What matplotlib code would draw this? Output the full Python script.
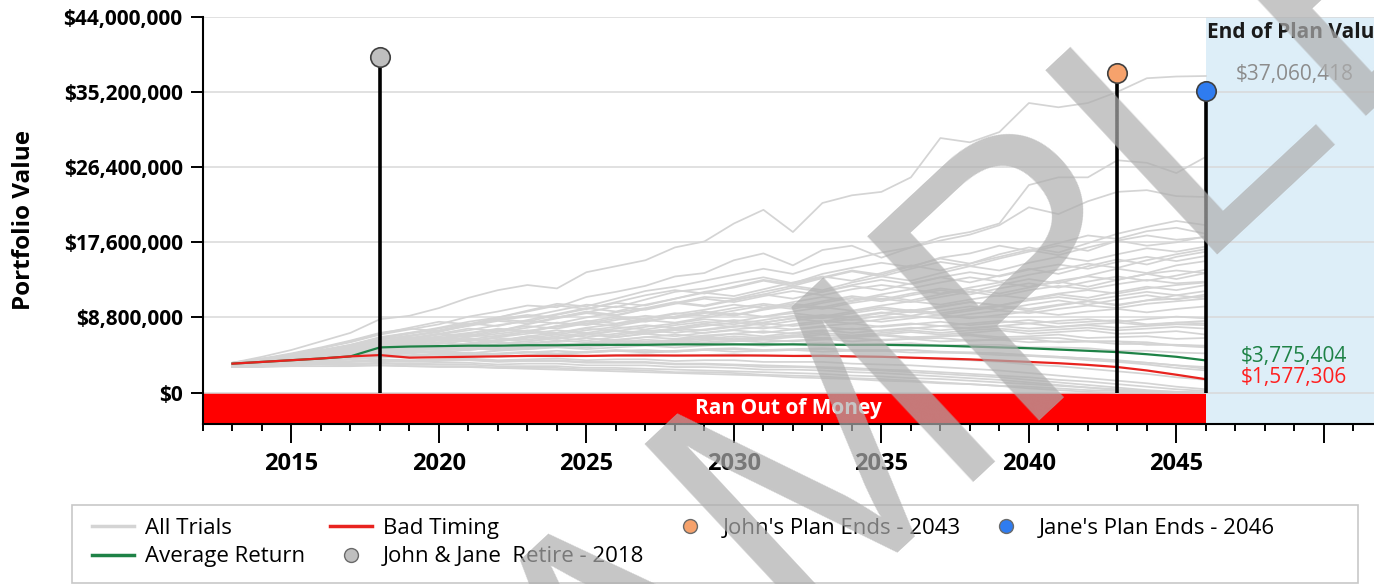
import numpy as np
import matplotlib
matplotlib.use("Agg")
import matplotlib.pyplot as plt
from matplotlib.ticker import MultipleLocator, FuncFormatter
from matplotlib.patches import Rectangle
from matplotlib.lines import Line2D

plt.rcParams["font.family"] = ["Open Sans", "DejaVu Sans"]

# --- data (values in millions of dollars) ---
years = np.arange(2013, 2047)

trials = [
    [3.5, 4.2, 5.0, 6.0, 7.0, 8.6, 9.0, 9.9, 11.1, 12.0, 12.6, 12.2, 14.1, 14.8, 15.5, 17.0, 17.7,
     19.8, 21.4, 18.8, 22.2, 23.1, 23.5, 25.2, 29.8, 29.3, 30.5, 33.9, 33.4, 33.9, 35.2, 36.8, 37.0, 37.06],
    [3.4, 3.9, 4.5, 5.2, 5.9, 6.8, 7.4, 8.0, 8.9, 9.5, 10.2, 10.0, 11.2, 11.8, 12.5, 13.6, 14.0,
     15.5, 16.3, 14.9, 16.7, 17.2, 15.8, 17.0, 18.2, 18.8, 19.8, 24.3, 25.2, 25.2, 27.2, 26.9, 25.7, 27.6],
    [3.3, 3.8, 4.3, 4.9, 5.6, 6.5, 7.0, 7.6, 8.3, 8.8, 9.6, 10.4, 10.1, 11.0, 11.9, 12.4, 13.1,
     13.8, 14.5, 13.9, 15.0, 15.6, 16.4, 17.0, 17.8, 18.5, 19.6, 21.7, 20.9, 22.4, 23.5, 23.7, 23.0, 22.9],
    [3.2, 3.7, 4.2, 4.8, 5.4, 6.2, 6.6, 7.1, 7.9, 8.5, 8.9, 9.6, 10.3, 10.0, 10.9, 11.8, 12.2,
     12.9, 13.5, 12.8, 13.9, 14.6, 15.2, 14.7, 15.8, 16.3, 17.2, 16.6, 17.5, 18.4, 18.0, 18.9, 19.3, 18.6],
    [3.5, 4.0, 4.4, 5.0, 5.6, 6.4, 7.0, 7.3, 8.0, 8.6, 8.3, 9.1, 9.8, 10.5, 10.2, 11.0, 11.8,
     12.3, 13.1, 12.5, 13.4, 14.2, 13.6, 14.5, 15.3, 14.8, 15.7, 16.5, 17.2, 16.6, 17.8, 18.4, 17.9, 18.2],
    [3.1, 3.5, 4.0, 4.6, 5.1, 5.8, 6.3, 6.9, 7.5, 7.2, 8.0, 8.7, 9.3, 9.0, 9.8, 10.5, 11.2,
     11.0, 11.8, 12.5, 12.0, 12.9, 13.6, 13.1, 14.0, 14.8, 14.3, 15.2, 15.9, 15.4, 16.2, 16.9, 16.5, 17.1],
    [3.4, 3.8, 4.2, 4.7, 5.3, 6.0, 6.2, 6.8, 7.3, 7.9, 8.4, 8.1, 8.8, 9.4, 9.9, 10.6, 10.2,
     10.9, 11.5, 12.3, 11.8, 12.6, 13.2, 12.7, 13.5, 14.1, 13.6, 14.4, 15.0, 14.5, 15.3, 15.9, 15.4, 16.0],
    [3.3, 3.6, 4.1, 4.5, 5.0, 5.7, 6.1, 6.6, 7.0, 7.4, 7.1, 7.8, 8.3, 8.9, 8.6, 9.2, 9.7,
     10.3, 9.9, 10.6, 11.2, 10.8, 11.5, 12.1, 11.6, 12.3, 12.9, 12.4, 13.1, 13.6, 13.2, 13.9, 14.3, 14.0],
    [3.2, 3.5, 3.9, 4.4, 4.9, 5.5, 5.9, 6.3, 6.8, 6.5, 7.2, 7.7, 8.1, 7.8, 8.4, 8.9, 9.4,
     9.0, 9.7, 10.2, 9.8, 10.5, 11.0, 10.6, 11.2, 11.8, 11.3, 12.0, 12.5, 12.1, 12.7, 13.2, 12.8, 13.0],
    [3.4, 3.7, 4.0, 4.4, 4.8, 5.4, 5.7, 6.1, 6.5, 6.9, 7.3, 7.0, 7.6, 8.0, 8.5, 8.2, 8.8,
     9.3, 8.9, 9.5, 10.0, 9.6, 10.2, 10.7, 10.3, 10.9, 11.4, 11.0, 11.6, 12.0, 11.6, 12.2, 12.6, 12.9],
    [3.0, 3.4, 3.8, 4.2, 4.7, 5.2, 5.5, 5.9, 6.3, 6.0, 6.6, 7.0, 7.5, 7.2, 7.7, 8.1, 8.6,
     8.3, 8.9, 9.3, 8.9, 9.5, 10.0, 9.6, 10.1, 10.6, 10.2, 10.8, 11.2, 10.8, 11.3, 11.8, 11.4, 11.9],
    [3.5, 3.9, 4.3, 4.7, 5.1, 5.6, 5.8, 6.2, 6.0, 6.5, 6.9, 7.3, 7.0, 7.5, 7.9, 7.6, 8.1,
     8.5, 8.2, 8.7, 9.1, 8.8, 9.3, 9.7, 9.3, 9.8, 10.2, 9.8, 10.3, 10.7, 10.3, 10.8, 11.0, 11.3],
    [3.2, 3.6, 3.9, 4.3, 4.6, 5.1, 5.4, 5.7, 6.1, 6.4, 6.2, 6.6, 7.0, 6.7, 7.2, 7.5, 7.3,
     7.7, 8.1, 7.8, 8.2, 8.6, 8.3, 8.7, 9.1, 8.7, 9.1, 9.5, 9.1, 9.5, 9.8, 9.4, 9.8, 10.1],
    [3.3, 3.5, 3.8, 4.1, 4.5, 4.9, 5.2, 5.5, 5.3, 5.7, 6.0, 6.4, 6.1, 6.5, 6.9, 6.6, 7.0,
     7.3, 7.0, 7.4, 7.7, 7.4, 7.8, 8.1, 7.8, 8.1, 8.4, 8.1, 8.4, 8.6, 8.3, 8.6, 8.9, 8.7],
    [3.1, 3.4, 3.7, 4.0, 4.3, 4.8, 5.0, 5.3, 5.6, 5.4, 5.8, 6.1, 5.9, 6.2, 6.5, 6.3, 6.7,
     6.9, 6.6, 7.0, 7.3, 7.0, 7.3, 7.6, 7.3, 7.6, 7.8, 7.5, 7.7, 7.9, 7.6, 7.8, 8.0, 7.9],
    [3.4, 3.6, 3.9, 4.2, 4.4, 4.7, 4.9, 5.2, 5.0, 5.3, 5.6, 5.4, 5.7, 6.0, 5.8, 6.1, 6.3,
     6.1, 6.4, 6.6, 6.3, 6.5, 6.7, 6.4, 6.6, 6.8, 6.5, 6.6, 6.8, 6.4, 6.5, 6.6, 6.3, 6.4],
    [3.2, 3.4, 3.7, 3.9, 4.2, 4.5, 4.7, 4.9, 5.2, 5.0, 5.3, 5.5, 5.3, 5.6, 5.8, 5.6, 5.9,
     6.1, 5.9, 6.1, 6.3, 6.0, 6.2, 6.3, 6.0, 6.1, 6.2, 5.9, 6.0, 6.0, 5.7, 5.7, 5.6, 5.4],
    [3.3, 3.5, 3.7, 4.0, 4.2, 4.4, 4.6, 4.8, 4.6, 4.9, 5.1, 5.3, 5.1, 5.3, 5.5, 5.3, 5.5,
     5.7, 5.5, 5.7, 5.8, 5.6, 5.7, 5.8, 5.5, 5.6, 5.6, 5.3, 5.3, 5.2, 4.9, 4.9, 4.7, 4.6],
    [3.0, 3.2, 3.4, 3.7, 3.9, 4.2, 4.3, 4.5, 4.7, 4.5, 4.7, 4.9, 4.7, 4.9, 5.0, 4.8, 5.0,
     5.1, 4.9, 5.0, 5.1, 4.9, 4.9, 5.0, 4.7, 4.7, 4.6, 4.3, 4.2, 4.0, 3.7, 3.5, 3.2, 3.0],
    [3.4, 3.5, 3.7, 3.9, 4.0, 4.2, 4.1, 4.3, 4.4, 4.2, 4.4, 4.5, 4.3, 4.4, 4.5, 4.3, 4.4,
     4.5, 4.3, 4.3, 4.4, 4.2, 4.2, 4.1, 3.9, 3.8, 3.6, 3.3, 3.1, 2.8, 2.5, 2.2, 1.8, 1.5],
    [3.1, 3.2, 3.4, 3.6, 3.7, 3.9, 3.8, 3.9, 4.0, 3.8, 3.9, 4.0, 3.8, 3.9, 3.9, 3.7, 3.8,
     3.8, 3.6, 3.6, 3.6, 3.4, 3.3, 3.2, 3.0, 2.8, 2.6, 2.3, 2.0, 1.7, 1.4, 1.1, 0.7, 0.4],
    [3.2, 3.3, 3.3, 3.4, 3.4, 3.5, 3.4, 3.5, 3.5, 3.3, 3.4, 3.4, 3.2, 3.2, 3.2, 3.0, 3.0,
     2.9, 2.7, 2.7, 2.6, 2.4, 2.3, 2.1, 1.9, 1.7, 1.5, 1.2, 0.9, 0.6, 0.3, 0.1, 0.0, 0.0],
    [3.0, 3.0, 3.1, 3.1, 3.1, 3.2, 3.1, 3.1, 3.1, 2.9, 2.9, 2.9, 2.7, 2.7, 2.6, 2.4, 2.4,
     2.3, 2.1, 2.0, 1.9, 1.7, 1.6, 1.4, 1.2, 1.0, 0.8, 0.5, 0.3, 0.1, 0.0, 0.0, 0.0, 0.0],
    [3.3, 3.2, 3.3, 3.3, 3.2, 3.2, 3.1, 3.0, 3.0, 2.9, 2.8, 2.7, 2.6, 2.5, 2.4, 2.3, 2.2,
     2.1, 2.0, 1.8, 1.7, 1.6, 1.4, 1.3, 1.1, 1.0, 0.8, 0.7, 0.5, 0.3, 0.2, 0.1, 0.0, 0.0],
    [3.5, 4.0, 4.6, 5.3, 6.1, 7.0, 7.5, 7.2, 7.9, 8.6, 9.1, 8.8, 9.4, 10.1, 9.7, 10.4, 11.0,
     10.6, 11.3, 11.9, 11.4, 12.1, 12.6, 12.2, 12.9, 13.5, 13.0, 13.8, 14.4, 15.1, 14.6, 15.5, 16.2, 16.8],
    [3.3, 3.7, 4.1, 4.6, 5.2, 5.9, 6.4, 6.9, 6.6, 7.1, 7.6, 8.2, 7.9, 8.5, 9.0, 8.7, 9.3,
     9.9, 10.4, 10.0, 10.7, 11.3, 10.9, 11.6, 12.2, 11.8, 12.6, 13.3, 12.8, 13.7, 14.5, 14.0, 14.9, 15.4],
    [3.2, 3.6, 4.0, 4.5, 5.0, 5.6, 6.0, 6.5, 6.2, 6.7, 7.1, 6.8, 7.3, 7.7, 7.4, 7.9, 8.3,
     8.0, 8.5, 9.0, 8.7, 9.3, 9.8, 9.4, 10.0, 10.6, 10.2, 10.9, 11.5, 11.1, 11.8, 12.4, 12.0, 12.6],
    [3.4, 3.7, 4.1, 4.5, 4.9, 5.3, 5.6, 5.9, 6.3, 6.0, 6.4, 6.8, 6.5, 6.9, 7.3, 7.0, 7.4,
     7.8, 7.5, 8.0, 8.4, 8.1, 8.6, 9.0, 8.7, 9.2, 9.6, 9.3, 9.8, 10.2, 9.9, 10.4, 10.7, 11.0],
    [3.1, 3.4, 3.6, 4.0, 4.3, 4.6, 4.9, 5.1, 5.4, 5.2, 5.5, 5.8, 5.6, 5.9, 6.2, 6.0, 6.3,
     6.6, 6.4, 6.7, 7.0, 6.7, 7.0, 7.3, 7.0, 7.3, 7.5, 7.2, 7.4, 7.6, 7.3, 7.5, 7.7, 7.5],
    [3.3, 3.5, 3.8, 4.1, 4.4, 4.8, 5.1, 5.3, 5.6, 5.9, 5.7, 6.0, 6.4, 6.1, 6.5, 6.8, 6.5,
     6.9, 7.2, 6.9, 7.2, 7.5, 7.2, 7.5, 7.8, 7.5, 7.8, 8.1, 7.7, 8.0, 8.2, 7.9, 8.2, 8.4],
    [3.2, 3.3, 3.5, 3.7, 3.9, 4.1, 4.3, 4.5, 4.3, 4.5, 4.7, 4.5, 4.7, 4.9, 4.7, 4.8, 5.0,
     4.8, 4.9, 5.0, 4.8, 4.9, 4.9, 4.7, 4.7, 4.6, 4.4, 4.3, 4.1, 3.8, 3.6, 3.3, 2.9, 2.6],
    [3.0, 3.1, 3.3, 3.4, 3.6, 3.7, 3.6, 3.7, 3.8, 3.6, 3.7, 3.7, 3.5, 3.5, 3.5, 3.3, 3.3,
     3.2, 3.0, 3.0, 2.9, 2.7, 2.6, 2.4, 2.2, 2.0, 1.8, 1.5, 1.2, 0.9, 0.6, 0.3, 0.1, 0.0],
    [3.4, 3.9, 4.5, 5.2, 6.0, 6.9, 7.6, 8.3, 8.0, 8.8, 9.5, 10.2, 9.8, 10.6, 11.4, 12.0, 11.6,
     12.4, 13.2, 12.7, 13.5, 14.3, 13.8, 14.8, 15.7, 15.1, 16.2, 17.0, 16.4, 17.5, 18.6, 19.4, 20.1, 19.6],
    [3.3, 3.8, 4.3, 4.9, 5.5, 6.3, 6.9, 7.5, 8.1, 7.8, 8.5, 9.2, 9.9, 9.5, 10.3, 11.0, 11.7,
     11.3, 12.1, 12.9, 13.6, 13.1, 14.0, 14.9, 14.3, 15.1, 15.9, 16.7, 16.1, 17.0, 17.8, 17.2, 17.6, 18.3],
    [3.3, 3.6, 4.0, 4.4, 4.9, 5.5, 6.0, 6.4, 6.9, 7.5, 7.2, 7.8, 8.4, 8.1, 8.7, 9.3, 9.0,
     9.6, 10.2, 9.8, 10.5, 11.1, 10.7, 11.4, 12.0, 11.5, 12.2, 12.8, 12.3, 13.0, 13.6, 13.1, 13.7, 14.4],
    [3.2, 3.5, 3.8, 4.2, 4.6, 5.0, 5.4, 5.8, 5.6, 6.1, 6.5, 6.3, 6.8, 7.2, 6.9, 7.4, 7.8,
     8.2, 7.9, 8.4, 8.9, 8.5, 9.0, 9.5, 9.1, 9.6, 10.1, 9.6, 10.2, 10.7, 10.2, 10.8, 11.4, 11.0],
    [3.4, 3.6, 3.9, 4.3, 4.7, 5.2, 5.0, 5.4, 5.8, 6.2, 6.0, 6.4, 6.8, 6.5, 6.9, 7.3, 7.0,
     7.4, 7.7, 7.4, 7.8, 8.1, 7.7, 8.0, 8.3, 7.9, 8.2, 8.5, 8.1, 8.3, 8.5, 8.0, 8.2, 8.1],
    [3.1, 3.3, 3.6, 3.9, 4.2, 4.6, 4.9, 4.7, 5.0, 5.3, 5.1, 5.4, 5.7, 5.5, 5.8, 6.0, 5.8,
     6.0, 6.2, 6.0, 6.2, 6.4, 6.1, 6.3, 6.4, 6.1, 6.2, 6.3, 5.9, 6.0, 6.0, 5.6, 5.6, 5.5],
    [3.3, 3.4, 3.6, 3.8, 4.0, 4.3, 4.4, 4.6, 4.4, 4.6, 4.8, 4.6, 4.8, 5.0, 4.8, 4.9, 5.1,
     5.2, 5.0, 5.1, 5.2, 5.0, 5.0, 5.0, 4.8, 4.7, 4.6, 4.4, 4.2, 4.0, 3.8, 3.5, 3.2, 2.8],
    [3.2, 3.2, 3.3, 3.5, 3.6, 3.8, 3.7, 3.8, 3.9, 3.7, 3.8, 3.8, 3.6, 3.6, 3.6, 3.4, 3.4,
     3.3, 3.2, 3.1, 3.0, 2.9, 2.7, 2.6, 2.4, 2.2, 2.0, 1.8, 1.5, 1.3, 1.0, 0.7, 0.4, 0.2],
    [3.0, 3.1, 3.2, 3.3, 3.3, 3.4, 3.3, 3.3, 3.3, 3.1, 3.1, 3.1, 2.9, 2.9, 2.8, 2.7, 2.6,
     2.5, 2.4, 2.3, 2.2, 2.0, 1.9, 1.7, 1.6, 1.4, 1.2, 1.0, 0.8, 0.6, 0.4, 0.2, 0.1, 0.0],
    [3.5, 3.9, 4.4, 4.9, 5.5, 6.2, 6.7, 7.2, 7.8, 8.4, 8.1, 8.8, 9.5, 9.1, 9.8, 10.5, 10.1,
     10.8, 11.5, 11.0, 11.8, 12.5, 12.0, 12.8, 13.5, 12.9, 13.7, 14.5, 13.9, 14.8, 15.6, 15.0, 15.9, 16.5],
    [3.3, 3.6, 3.9, 4.3, 4.7, 5.1, 5.5, 5.3, 5.7, 6.1, 6.6, 6.3, 6.8, 7.3, 7.0, 7.5, 8.0,
     7.7, 8.2, 8.7, 8.3, 8.9, 9.4, 9.0, 9.6, 10.1, 9.7, 10.3, 10.8, 10.3, 10.9, 11.4, 10.9, 11.5],
    [3.1, 3.3, 3.6, 3.8, 4.1, 4.4, 4.7, 4.9, 5.2, 5.0, 5.3, 5.6, 5.4, 5.7, 6.0, 5.8, 6.1,
     6.4, 6.2, 6.5, 6.8, 6.5, 6.8, 7.1, 6.8, 7.0, 7.3, 6.9, 7.1, 7.3, 6.9, 7.0, 7.2, 6.8],
    [3.4, 3.8, 4.3, 4.8, 5.4, 6.0, 6.5, 6.2, 6.7, 7.3, 7.8, 7.5, 8.1, 8.7, 8.3, 8.9, 9.5,
     9.1, 9.8, 10.4, 10.0, 10.7, 11.3, 10.8, 11.5, 12.1, 11.6, 12.3, 13.0, 12.4, 13.2, 13.9, 13.3, 14.0],
    [3.2, 3.4, 3.7, 4.0, 4.3, 4.7, 5.0, 5.3, 5.1, 5.4, 5.7, 5.5, 5.8, 6.1, 5.9, 6.2, 6.5,
     6.2, 6.5, 6.7, 6.4, 6.6, 6.8, 6.5, 6.6, 6.7, 6.3, 6.4, 6.4, 6.0, 6.0, 5.9, 5.5, 5.3],
]

average_return = [3.4, 3.6, 3.8, 4.0, 4.25,
                  5.3, 5.4, 5.45, 5.5, 5.5, 5.55, 5.55, 5.6, 5.6, 5.6,
                  5.65, 5.65, 5.65, 5.65, 5.65, 5.6, 5.6, 5.6,
                  5.55, 5.5, 5.4, 5.3, 5.2, 5.05, 4.9, 4.75, 4.5, 4.2, 3.775]
bad_timing = [3.4, 3.6, 3.8, 4.0, 4.25,
              4.4, 4.1, 4.15, 4.2, 4.25, 4.3, 4.3, 4.3,
              4.35, 4.35, 4.35, 4.35, 4.35, 4.35, 4.3, 4.3,
              4.25, 4.2, 4.1, 4.0, 3.9, 3.75, 3.6, 3.45, 3.25, 3.0, 2.6, 2.1, 1.577]

event_years = [2018, 2043, 2046]
event_tops = [39.3, 37.4, 35.3]
event_colors = ["#bfbfbf", "#f6a26c", "#2f7cf0"]
event_labels = ["John & Jane  Retire - 2018", "John's Plan Ends - 2043", "Jane's Plan Ends - 2046"]

end_max = 37060418
end_avg = 3775404
end_bad = 1577306

yticks = [0, 8.8e6, 17.6e6, 26.4e6, 35.2e6, 44e6]
xticks = [2015, 2020, 2025, 2030, 2035, 2040, 2045, 2050]
xlabels = ["2015", "2020", "2025", "2030", "2035", "2040", "2045", ""]

W, H = 1374, 584
fig = plt.figure(figsize=(W / 100, H / 100), dpi=100)
ax = fig.add_axes([203 / W, 1 - 424.3 / H, 1171 / W, 407.6 / H])
x0, x1 = 2012, 2051.7
y0, y1 = -3.7e6, 44e6
ax.set_xlim(x0, x1)
ax.set_ylim(y0, y1)

# background bands
ax.axhspan(y0, 0, color="#ff0000", lw=0, zorder=1)
ax.axvspan(2046, x1, color="#ddeef8", lw=0, zorder=1.2)
for yt in yticks:
    ax.axhline(yt, color="#d9d9d9", lw=1.1, zorder=1.5)

ax.text(0.5, y0 / 2, "Ran Out of Money", transform=ax.get_yaxis_transform(),
        ha="center", va="center", color="white", fontsize=15, fontweight="bold", zorder=3)

# trials
for t in trials:
    ax.plot(years, np.array(t) * 1e6, color="#d4d4d4", lw=1.25, zorder=2)
ax.plot(years, np.array(average_return) * 1e6, color="#1e8246", lw=1.6, zorder=3)
ax.plot(years, np.array(bad_timing) * 1e6, color="#e8231f", lw=1.6, zorder=3.1)

# event stems
for yr, top, c in zip(event_years, event_tops, event_colors):
    ax.vlines(yr, 0, top * 1e6, color="black", lw=2.6, zorder=4)
    ax.plot([yr], [top * 1e6], "o", ms=14, mfc=c, mec="#404040", mew=1.2, zorder=5, clip_on=False)

# end of plan annotations
ax.text(2046.05, 42.1e6, "End of Plan Value", ha="left", va="center",
        fontsize=15, fontweight="bold", color="#1a1a1a", zorder=6)
ax.annotate(f"${end_max:,}", (2049.0, end_max), xytext=(0, 1), textcoords="offset points",
            ha="center", va="center", fontsize=15, color="#8c8c8c", zorder=6)
ax.annotate(f"${end_avg:,}", (2049.0, end_avg), xytext=(0, 3), textcoords="offset points",
            ha="center", va="center", fontsize=15, color="#1e8246", zorder=6)
ax.annotate(f"${end_bad:,}", (2049.0, end_bad), xytext=(0, 1), textcoords="offset points",
            ha="center", va="center", fontsize=15, color="#ff1f1f", zorder=6)

# axes styling
for s in ["top", "right"]:
    ax.spines[s].set_visible(False)
for s in ["left", "bottom"]:
    ax.spines[s].set_linewidth(1.5)
    ax.spines[s].set_zorder(6)

ax.set_yticks(yticks)
ax.yaxis.set_major_formatter(FuncFormatter(lambda v, p: f"${v:,.0f}"))
ax.set_xticks(xticks)
ax.set_xticklabels(xlabels)
ax.xaxis.set_minor_locator(MultipleLocator(1))
ax.tick_params(axis="y", length=8.6, width=1.4, pad=6, labelsize=15)
ax.tick_params(axis="x", which="major", length=13.5, width=1.4, pad=6.5, labelsize=17)
ax.tick_params(axis="x", which="minor", length=5, width=1.4)
for lab in ax.get_xticklabels() + ax.get_yticklabels():
    lab.set_fontweight("bold")

ax.set_ylabel("Portfolio Value", fontsize=17.5, fontweight="bold")
ax.yaxis.set_label_coords((36 - 203) / 1171, 0.5)

# legend
handles = [
    Line2D([], [], color="#d4d4d4", lw=2.5),
    Line2D([], [], color="#1e8246", lw=2.5),
    Line2D([], [], color="#e8231f", lw=2.5),
]
for c in event_colors:
    handles.append(Line2D([], [], ls="none", marker="o", ms=10, mfc=c, mec="#6a6a6a", mew=1))
labels = ["All Trials", "Average Return", "Bad Timing"] + event_labels
fig.legend(handles, labels, ncol=4, loc="upper left", bbox_to_anchor=(92 / W, 1 - 518 / H),
           frameon=False, fontsize=16, handlelength=1.9, handletextpad=0.5,
           columnspacing=1.1, labelspacing=0.33, borderpad=0, borderaxespad=0)
fig.add_artist(Rectangle((72 / W, 1 / H), (1358 - 72) / W, 78 / H, transform=fig.transFigure,
                         fill=False, ec="#c8c8c8", lw=1.2))

# watermark
fig.text(977 / W, 1 - 464 / H, "SAMPLE", fontsize=263, family="Liberation Sans",
         color="#aeaeae", alpha=0.7, rotation=43, rotation_mode="anchor",
         ha="center", va="baseline", zorder=100)

fig.savefig("out.png", dpi=100)
